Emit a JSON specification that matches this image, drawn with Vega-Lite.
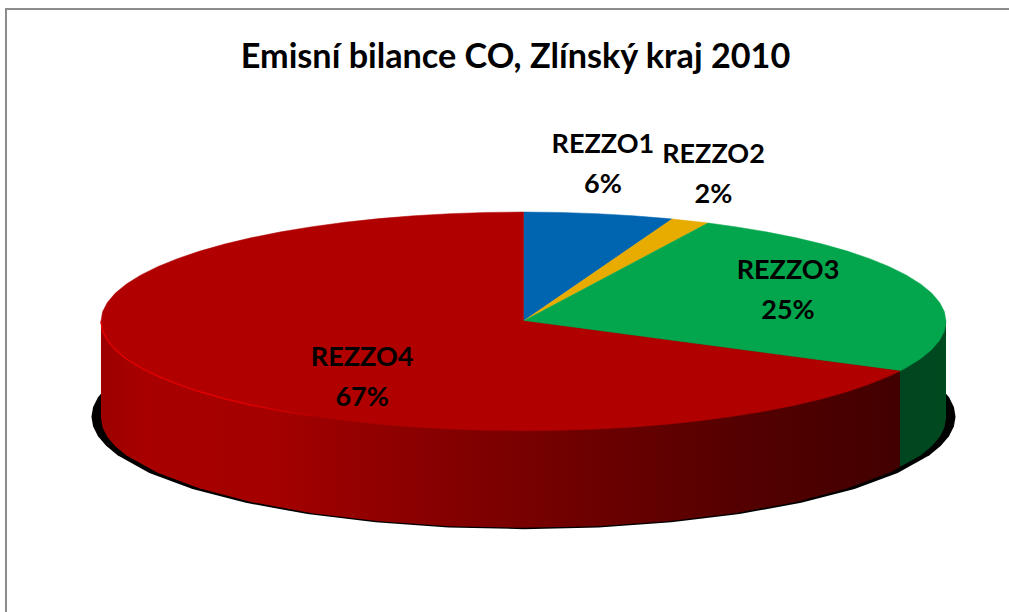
{
"$schema":"https://vega.github.io/schema/vega-lite/v6.json",
"width":1004,"height":604,
"autosize":{"type":"none"},
"padding":{"left":6,"top":9,"right":0,"bottom":0},
"background":"white",
"view":{"stroke":"#8c8c8c","strokeWidth":2},
"title":{"text":"Emisní bilance CO, Zlínský kraj 2010","font":"Lato","fontWeight":"bold","fontSize":34.2,"color":"#000000","anchor":"middle","frame":"group","dx":7.5,"offset":-66},
"projection":{"type":"orthographic","rotate":[0,-15,0],"scale":242090,"translate":[517.5,234153]},
"datasets":{
"shadow":[{"type":"Feature","properties":{"part":"shadow"},"geometry":{"type":"Polygon","coordinates":[[[61.61,89.89078],[58.54,89.88421],[55.52,89.87784],[52.56,89.87171],[49.64,89.86581],[46.75,89.86015],[43.90,89.85477],[41.07,89.84965],[38.25,89.84481],[32.68,89.83601],[27.17,89.82844],[21.69,89.82218],[16.25,89.81725],[10.82,89.81371],[5.41,89.81156],[0,89.81085],[-5.41,89.81156],[-10.82,89.81371],[-16.25,89.81725],[-21.69,89.82218],[-27.17,89.82844],[-32.68,89.83601],[-38.25,89.84481],[-41.07,89.84965],[-43.90,89.85477],[-46.75,89.86015],[-49.64,89.86581],[-52.56,89.87171],[-55.52,89.87784],[-58.54,89.88421],[-61.61,89.89078],[61.61,89.89078]]]}}],
"wall":[{"type":"Feature","properties":{"part":"side"},"geometry":{"type":"Polygon","coordinates":[[[-90,89.9],[90,89.9],[48.65,89.86679],[45.84,89.86115],[43.07,89.85578],[40.31,89.85067],[37.56,89.84585],[32.11,89.83708],[26.70,89.82954],[21.33,89.82329],[15.98,89.81838],[10.64,89.81484],[5.32,89.81271],[0,89.812],[-5.32,89.81271],[-10.64,89.81484],[-15.98,89.81838],[-21.33,89.82329],[-26.70,89.82954],[-32.11,89.83708],[-37.56,89.84585],[-40.31,89.85067],[-43.07,89.85578],[-45.84,89.86115],[-48.65,89.86679],[-90,89.9]]]}}],
"slices":[
{"type":"Feature","properties":{"slice":"REZZO1","share":6},"geometry":{"type":"Polygon","coordinates":[[[0,90],[180,89.9],[175,89.9],[170,89.9],[165,89.9],[160,89.9],[159.4,89.9],[0,90]]]}},
{"type":"Feature","properties":{"slice":"REZZO2","share":2},"geometry":{"type":"Polygon","coordinates":[[[0,90],[159.4,89.9],[155,89.9],[154.1,89.9],[0,90]]]}},
{"type":"Feature","properties":{"slice":"REZZO3","share":25},"geometry":{"type":"Polygon","coordinates":[[[0,90],[154.1,89.9],[150,89.9],[145,89.9],[140,89.9],[135,89.9],[130,89.9],[125,89.9],[120,89.9],[115,89.9],[110,89.9],[105,89.9],[100,89.9],[95,89.9],[90,89.9],[85,89.9],[80,89.9],[75,89.9],[70,89.9],[65,89.9],[63,89.9],[0,90]]]}},
{"type":"Feature","properties":{"slice":"REZZO4","share":67},"geometry":{"type":"Polygon","coordinates":[[[0,90],[63,89.9],[60,89.9],[55,89.9],[50,89.9],[45,89.9],[40,89.9],[35,89.9],[30,89.9],[25,89.9],[20,89.9],[15,89.9],[10,89.9],[5,89.9],[0,89.9],[-5,89.9],[-10,89.9],[-15,89.9],[-20,89.9],[-25,89.9],[-30,89.9],[-35,89.9],[-40,89.9],[-45,89.9],[-50,89.9],[-55,89.9],[-60,89.9],[-65,89.9],[-70,89.9],[-75,89.9],[-80,89.9],[-85,89.9],[-90,89.9],[-95,89.9],[-100,89.9],[-105,89.9],[-110,89.9],[-115,89.9],[-120,89.9],[-125,89.9],[-130,89.9],[-135,89.9],[-140,89.9],[-145,89.9],[-150,89.9],[-155,89.9],[-160,89.9],[-165,89.9],[-170,89.9],[-175,89.9],[-180,89.9],[0,90]]]}}
],
"lip":[{"type":"Feature","properties":{"part":"lip"},"geometry":{"type":"LineString","coordinates":[[-90,89.9],[-85,89.9],[-80,89.9],[-75,89.9],[-70,89.9],[-65,89.9],[-60,89.9],[-55,89.9],[-50,89.9],[-45,89.9],[-40,89.9],[-35,89.9],[-30,89.9]]}}],
"labels":[
{"slice":"REZZO1","share":6,"label":"REZZO1\n6%","lon":172.54,"lat":89.8552},
{"slice":"REZZO2","share":2,"label":"REZZO2\n2%","lon":161.51,"lat":89.8582},
{"slice":"REZZO3","share":25,"label":"REZZO3\n25%","lon":113.67,"lat":89.93165},
{"slice":"REZZO4","share":67,"label":"REZZO4\n67%","lon":-36.22,"lat":89.93536}
]
},
"layer":[
{"data":{"name":"shadow"},
 "mark":{"type":"geoshape","filled":true,"fill":"#000000","stroke":null}},
{"data":{"name":"wall"},
 "mark":{"type":"geoshape","filled":true,"stroke":null,"fill":{"gradient":"linear","x1":0,"y1":0,"x2":1,"y2":0,"stops":[{"offset":0,"color":"#9c0000"},{"offset":0.05,"color":"#a80000"},{"offset":0.2,"color":"#a40000"},{"offset":0.5,"color":"#780000"},{"offset":0.75,"color":"#550000"},{"offset":0.9455,"color":"#420000"},{"offset":0.9456,"color":"#00451f"},{"offset":1,"color":"#004a20"}]}}},
{"data":{"name":"slices"},
 "mark":{"type":"geoshape","filled":true,"strokeWidth":0.5},
 "encoding":{
  "color":{"field":"properties.slice","type":"nominal","legend":null,"scale":{"domain":["REZZO1","REZZO2","REZZO3","REZZO4"],"range":["#0065b0","#e8ab00","#03a64c","#b00000"]}},
  "stroke":{"field":"properties.slice","type":"nominal","legend":null,"scale":{"domain":["REZZO1","REZZO2","REZZO3","REZZO4"],"range":["#0065b0","#e8ab00","#03a64c","#b00000"]}}}},
{"data":{"name":"lip"},
 "mark":{"type":"geoshape","filled":false,"fill":null,"strokeWidth":1.5,"stroke":{"gradient":"linear","x1":0,"y1":0,"x2":1,"y2":0,"stops":[{"offset":0,"color":"#e00000"},{"offset":0.7,"color":"#e00000"},{"offset":1,"color":"#b80000"}]}}},
{"data":{"name":"labels"},
 "mark":{"type":"text","font":"Lato","fontWeight":"bold","fontSize":27,"color":"#000000","align":"center","baseline":"middle","lineBreak":"\n","lineHeight":40,"dy":-20},
 "encoding":{"longitude":{"field":"lon","type":"quantitative"},"latitude":{"field":"lat","type":"quantitative"},"text":{"field":"label","type":"nominal"}}}
]
}
